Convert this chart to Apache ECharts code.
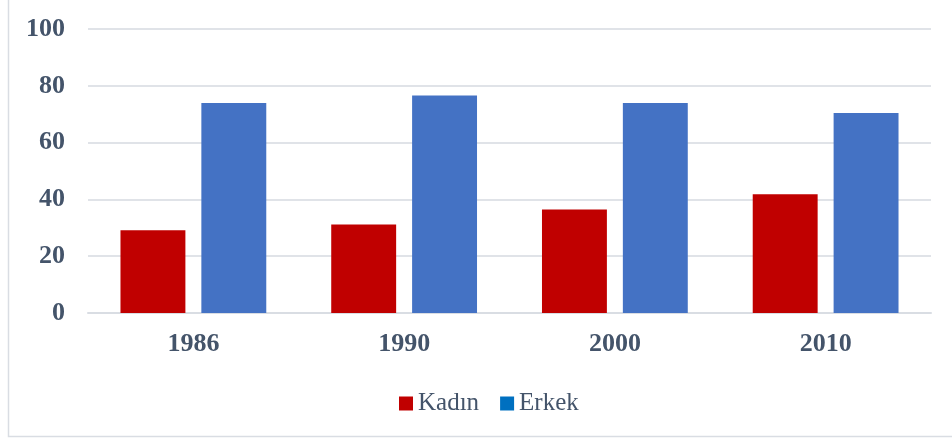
<!DOCTYPE html>
<html>
<head>
<meta charset="utf-8">
<script src="https://cdn.jsdelivr.net/npm/echarts@6/dist/echarts.min.js"></script>
<style>html,body{margin:0;padding:0;background:#fff}#c{width:952px;height:440px}</style>
</head>
<body>
<div id="c"></div>
<script>
const categories = ['1986', '1990', '2000', '2010'];
const kadin = [29.1, 31.2, 36.4, 41.8];
const erkek = [73.9, 76.6, 73.9, 70.4];
const yTicks = [0, 20, 40, 60, 80, 100];

const chart = echarts.init(document.getElementById('c'));
const textColor = '#44546a';
chart.setOption({
  animation: false,
  backgroundColor: '#fff',
  graphic: [{
    type: 'rect', shape: {x: 8.5, y: -1, width: 960, height: 437.5},
    style: {fill: 'none', stroke: '#d9dde3', lineWidth: 1.5}, silent: true, z: -1
  }],
  grid: {left: 88, right: 21, top: 29, bottom: 127, containLabel: false},
  legend: {
    top: 386, left: 394, itemWidth: 14, itemHeight: 14, itemGap: 21,
    icon: 'rect',
    textStyle: {fontFamily: 'Liberation Serif', fontSize: 25, color: textColor},
    data: [
      {name: 'Kadın', itemStyle: {color: '#c00000'}},
      {name: 'Erkek', itemStyle: {color: '#0070c0'}}
    ]
  },
  xAxis: {
    type: 'category', data: categories,
    axisLine: {lineStyle: {color: '#d9dde3', width: 2}},
    axisTick: {show: false},
    axisLabel: {fontFamily: 'Liberation Serif', fontWeight: 'bold', fontSize: 26, color: textColor, margin: 18}
  },
  yAxis: {
    type: 'value', min: yTicks[0], max: yTicks[yTicks.length - 1], interval: 20,
    axisLine: {show: false}, axisTick: {show: false},
    splitLine: {lineStyle: {color: '#e0e3e8', width: 2}},
    axisLabel: {fontFamily: 'Liberation Serif', fontWeight: 'bold', fontSize: 26, color: textColor, margin: 23}
  },
  series: [
    {name: 'Kadın', type: 'bar', data: kadin, barWidth: '30.8%', barGap: '24.6%', itemStyle: {color: '#c00000'}},
    {name: 'Erkek', type: 'bar', data: erkek, barWidth: '30.8%', barGap: '24.6%', itemStyle: {color: '#4472c4'}}
  ]
});
</script>
</body>
</html>
